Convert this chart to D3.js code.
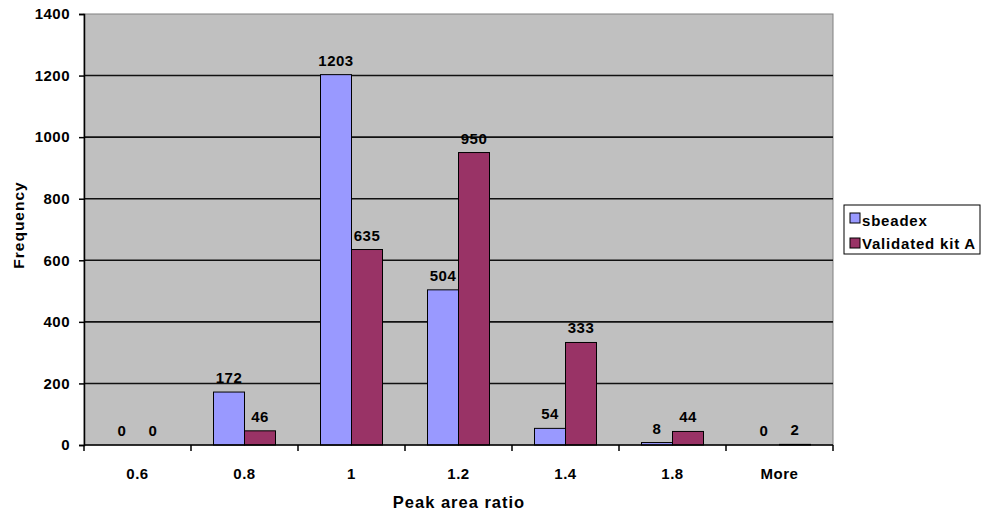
<!DOCTYPE html>
<html><head><meta charset="utf-8">
<script src="https://cdn.jsdelivr.net/npm/d3@7"></script>
<style>body{margin:0;background:#fff;} svg{display:block;font-family:"Liberation Sans",Arial,sans-serif;font-weight:bold;}</style>
</head><body><svg id="c" width="982" height="515"></svg>
<script>
const categories = ["0.6","0.8","1","1.2","1.4","1.8","More"];
const seriesNames = ["sbeadex","Validated kit A"];
const sbeadex = [0,172,1203,504,54,8,0];
const validatedKitA = [0,46,635,950,333,44,2];
const yTicks = [0,200,400,600,800,1000,1200,1400];
const colors = ["#9999FF","#993366"];

const svg = d3.select("#c");
const m = {l:84, t:14, r:833, b:445};
const x = d3.scaleBand().domain(categories).range([m.l, m.r]).paddingInner(0).paddingOuter(0);
const y = d3.scaleLinear().domain([0,1400]).range([m.b, m.t]);
const inner = d3.scaleBand().domain(seriesNames).range([0, x.bandwidth()]).paddingInner(0).paddingOuter(0.726);

svg.append("rect").attr("x",m.l).attr("y",m.t).attr("width",m.r-m.l).attr("height",m.b-m.t).attr("fill","#C0C0C0").attr("stroke","#808080").attr("stroke-width",1);

svg.append("g").selectAll("line").data(yTicks.filter(d=>d>0 && d<1400)).join("line")
  .attr("x1",m.l).attr("x2",m.r).attr("y1",d=>y(d)).attr("y2",d=>y(d)).attr("stroke","#111").attr("stroke-width",1.6);

const series = [sbeadex, validatedKitA];
series.forEach((vals,si)=>{
  const g = svg.append("g");
  g.selectAll("rect").data(vals.map((v,i)=>({v,c:categories[i]}))).join("rect")
    .attr("x",d=>x(d.c)+inner(seriesNames[si]))
    .attr("y",d=>y(d.v))
    .attr("width",inner.bandwidth())
    .attr("height",d=>y(0)-y(d.v))
    .attr("fill",colors[si]).attr("stroke","#000").attr("stroke-width",1);
  g.selectAll("text").data(vals.map((v,i)=>({v,c:categories[i]}))).join("text")
    .attr("x",d=>x(d.c)+inner(seriesNames[si])+inner.bandwidth()/2)
    .attr("y",d=>y(d.v)-9)
    .attr("text-anchor","middle").attr("font-size",15).attr("letter-spacing",0.5).attr("fill","#000")
    .text(d=>d.v);
});

const yAxis = d3.axisLeft(y).tickValues(yTicks).tickSize(5).tickPadding(9).tickFormat(d3.format("d"));
const ya = svg.append("g").attr("transform",`translate(${m.l},0)`).call(yAxis);
ya.selectAll("text").attr("font-size",15).attr("letter-spacing",0.5).attr("font-family","Liberation Sans, Arial, sans-serif").attr("font-weight","bold").attr("fill","#000");
ya.selectAll(".tick line").attr("stroke","#000").attr("stroke-width",1.5);
ya.select(".domain").attr("stroke","#000").attr("stroke-width",1.5);

const xa = svg.append("g").attr("transform",`translate(0,${m.b})`);
xa.append("line").attr("x1",m.l).attr("x2",m.r).attr("stroke","#000").attr("stroke-width",1.5);
const bounds = categories.map(c=>x(c)).concat([m.r]);
xa.selectAll("line.t").data(bounds).join("line").attr("class","t")
  .attr("x1",d=>d).attr("x2",d=>d).attr("y1",0).attr("y2",6).attr("stroke","#000").attr("stroke-width",1.5);
xa.selectAll("text").data(categories).join("text")
  .attr("x",d=>x(d)+x.bandwidth()/2).attr("y",34).attr("text-anchor","middle").attr("font-size",15).attr("letter-spacing",0.5).attr("fill","#000").text(d=>d);

svg.append("text").attr("x",459).attr("y",508).attr("text-anchor","middle").attr("font-size",16.5).attr("letter-spacing",1).text("Peak area ratio");
svg.append("text").attr("transform","translate(24,225) rotate(-90)").attr("text-anchor","middle").attr("font-size",15.5).attr("letter-spacing",1).text("Frequency");

const lg = svg.append("g");
lg.append("rect").attr("x",844).attr("y",205).attr("width",136).attr("height",49).attr("fill","#fff").attr("stroke","#000");
seriesNames.forEach((n,i)=>{
  lg.append("rect").attr("x",850).attr("y",213+i*25).attr("width",10).attr("height",10).attr("fill",colors[i]).attr("stroke","#000");
  lg.append("text").attr("x",862).attr("y",226+i*23).attr("font-size",15).attr("letter-spacing",0.8).text(n);
});
</script></body></html>
